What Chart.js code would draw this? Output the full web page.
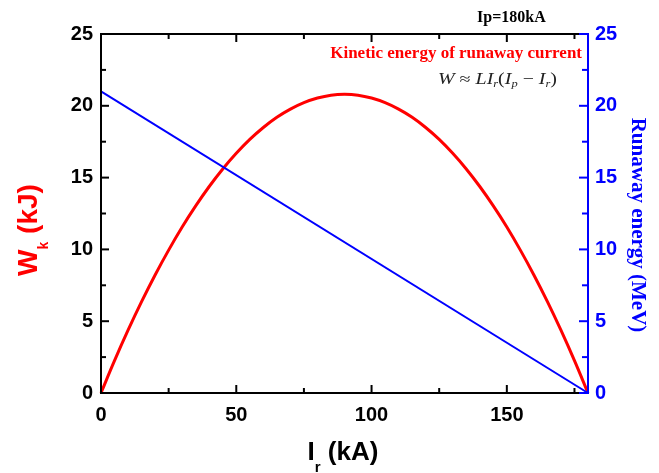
<!DOCTYPE html>
<html>
<head>
<meta charset="utf-8">
<script src="https://cdn.jsdelivr.net/npm/chart.js@4/dist/chart.umd.min.js"></script>
<style>
html,body{margin:0;padding:0;background:#fff}
#wrap{width:659px;height:473px;position:relative}
</style>
</head>
<body>
<div id="wrap"><canvas id="chart"></canvas></div>
<script>
// corriente de fuga Ir (kA) y energia cinetica Wk (kJ)
const corriente = [0,5,10,15,20,25,30,35,40,45,50,55,60,65,70,75,80,85,90,95,100,105,110,115,120,125,130,135,140,145,150,155,160,165,170,175,180]
const energiaCinetica = [0,2.25,4.37,6.36,8.22,9.95,11.56,13.03,14.38,15.6,16.69,17.66,18.49,19.2,19.77,20.22,20.54,20.74,20.8,20.74,20.54,20.22,19.77,19.2,18.49,17.66,16.69,15.6,14.38,13.03,11.56,9.95,8.22,6.36,4.37,2.25,0]

// energia de los electrones (MeV)
const corrienteMeV = [0,180]
const energiaMeV = [21,0]

const ticksX = [0,50,100,150]

const ROJO = '#ff0000'
const AZUL = '#0000ff'

const pares = (xs,ys) => xs.map((v,i)=>({x:v,y:ys[i]}))

function linea(ctx,x1,y1,x2,y2){
ctx.beginPath()
ctx.moveTo(x1,y1)
ctx.lineTo(x2,y2)
ctx.stroke()
}

// ejes con marcas hacia dentro
const marco = {
id:'marco',
afterDatasetsDraw(c){
const {ctx, chartArea:a, scales:{x,y,y2}} = c
ctx.save()
ctx.lineWidth = 2
ctx.strokeStyle = '#000'
for(let v=0; v<=180; v+=25){
const px = x.getPixelForValue(v)
const L = v%50===0 ? 8 : 5
linea(ctx,px,a.bottom,px,a.bottom-L)
linea(ctx,px,a.top,px,a.top+L)
}
for(let v=0; v<=25; v+=2.5){
const py = y.getPixelForValue(v)
const L = v%5===0 ? 8 : 5
linea(ctx,a.left,py,a.left+L,py)
}
ctx.lineCap = 'square'
linea(ctx,a.left,a.top,a.left,a.bottom)
linea(ctx,a.left,a.bottom,a.right,a.bottom)
linea(ctx,a.left,a.top,a.right,a.top)

ctx.strokeStyle = AZUL
for(let v=0; v<=25; v+=2.5){
const py = y2.getPixelForValue(v)
const L = v%5===0 ? 8 : 5
linea(ctx,a.right,py,a.right-L,py)
}
linea(ctx,a.right,a.top,a.right,a.bottom)
ctx.restore()
}
}

// escribe trozos seguidos: [texto, fuente, desplazamiento vertical]
function ancho(ctx,partes){
let total = 0
partes.forEach(p=>{ ctx.font=p[1]; total += ctx.measureText(p[0]).width })
return total
}
function trozos(ctx,partes,x0,y0,centrado){
let x = centrado ? x0 - ancho(ctx,partes)/2 : x0
partes.forEach(p=>{
ctx.font = p[1]
ctx.fillText(p[0], x, y0 + (p[2]||0))
x += ctx.measureText(p[0]).width
})
}

const rotulos = {
id:'rotulos',
afterDraw(c){
const ctx = c.ctx
ctx.save()
ctx.textBaseline = 'alphabetic'
ctx.textAlign = 'left'

// eje izquierdo
ctx.save()
ctx.fillStyle = ROJO
ctx.translate(37,230)
ctx.rotate(-Math.PI/2)
trozos(ctx,[
['W','bold 28px "Liberation Sans"'],
['k','bold 14px "Liberation Sans"',11],
[' (kJ)','bold 28px "Liberation Sans"']
],0,0,true)
ctx.restore()

// eje inferior
ctx.fillStyle = '#000'
trozos(ctx,[
['I','bold 26px "Liberation Sans"'],
['r','bold 15px "Liberation Sans"',12],
[' (kA)','bold 26px "Liberation Sans"']
],343,460,true)

// eje derecho
ctx.save()
ctx.fillStyle = AZUL
ctx.translate(632,225)
ctx.rotate(Math.PI/2)
ctx.textAlign = 'center'
ctx.font = 'bold 21px "Liberation Serif"'
ctx.fillText('Runaway energy (MeV)',0,0)
ctx.restore()

ctx.fillStyle = '#000'
ctx.font = 'bold 16px "Liberation Serif"'
ctx.fillText('Ip=180kA',477,22)

ctx.fillStyle = ROJO
ctx.font = 'bold 17px "Liberation Serif"'
ctx.textAlign = 'right'
ctx.fillText('Kinetic energy of runaway current',582,58)

// formula, estirada al ancho del hueco
ctx.textAlign = 'left'
ctx.fillStyle = '#222'
const it = 'italic 16px "Liberation Serif"'
const rm = '16px "Liberation Serif"'
const sb = 'italic 10px "Liberation Serif"'
const formula = [
['W',it],
[' \u2248 ',rm],
['LI',it],
['r',sb,3],
['(',rm],
['I',it],
['p',sb,3],
[' \u2212 ',rm],
['I',it],
['r',sb,3],
[')',rm]
]
const sx = 119/ancho(ctx,formula)
ctx.translate(438,84)
ctx.scale(sx,1)
trozos(ctx,formula,0,0,false)
ctx.restore()
}
}

const fuenteTicks = {family:'Liberation Sans', size:20, weight:'bold'}

new Chart(document.getElementById('chart'),{
type:'line',
data:{
datasets:[
{
label:'Wk',
data:pares(corriente,energiaCinetica),
yAxisID:'y',
borderColor:ROJO,
borderWidth:3,
pointRadius:0,
tension:0.4,
clip:6,
order:2
},
{
label:'MeV',
data:pares(corrienteMeV,energiaMeV),
yAxisID:'y2',
borderColor:AZUL,
borderWidth:2,
pointRadius:0,
clip:6,
order:1
}
]
},
options:{
responsive:true,
maintainAspectRatio:false,
animation:false,
events:[],
layout:{padding:{top:34,left:0,right:0,bottom:0}},
plugins:{legend:{display:false},tooltip:{enabled:false}},
scales:{
x:{
type:'linear',
min:0,max:180,
afterBuildTicks(s){ s.ticks = ticksX.map(v=>({value:v})) },
afterFit(s){ s.height = 80 },
grid:{display:false,drawTicks:false},
border:{display:false},
ticks:{color:'#000',font:fuenteTicks,padding:10,maxRotation:0}
},
y:{
position:'left',
min:0,max:25,
afterFit(s){ s.width = 101 },
grid:{display:false,drawTicks:false},
border:{display:false},
ticks:{stepSize:5,color:'#000',font:fuenteTicks,padding:8}
},
y2:{
position:'right',
min:0,max:25,
afterFit(s){ s.width = 71 },
grid:{display:false,drawTicks:false},
border:{display:false},
ticks:{stepSize:5,color:AZUL,font:fuenteTicks,padding:7}
}
}
},
plugins:[marco,rotulos]
})
</script>
</body>
</html>
